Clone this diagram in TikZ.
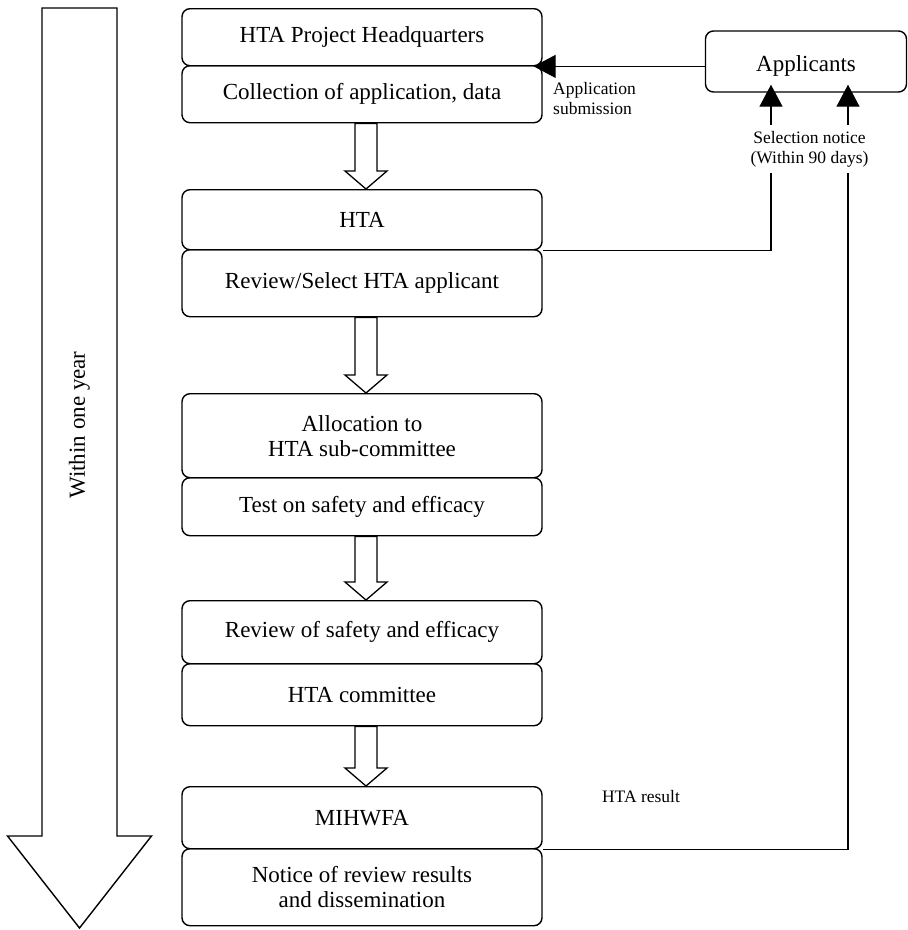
\documentclass[tikz,border=0pt]{standalone}
\usepackage{fontspec}
\setmainfont{Liberation Serif}
\usetikzlibrary{arrows.meta,calc}

% hollow block arrow from the bottom of one box to the top of the next
\newcommand{\hollowarrow}[2]{%
  \draw[hollow] let \p1=(#1.south), \p2=(#2.north) in
    (\x1-7pt,\y1) -- (\x1+15pt,\y1) -- (\x1+15pt,\y2+18pt) -- (\x1+25pt,\y2+18pt)
    -- (\x1+4pt,\y2) -- (\x1-17pt,\y2+18pt) -- (\x1-7pt,\y2+18pt) -- cycle;}

\begin{document}
\begin{tikzpicture}[x=1pt,y=-1pt,
  mainfont/.style={font=\fontsize{23}{25}\selectfont},
  smallfont/.style={font=\fontsize{17.5}{20}\selectfont},
  box/.style={draw, line width=1.4pt, rounded corners=8pt, minimum width=360pt,
    anchor=north, inner sep=2pt, align=center, mainfont},
  hollow/.style={draw, line width=1.3pt, line join=miter},
  conn/.style={draw, line width=1.3pt},
  tri/.style={conn, -{Triangle[length=22pt,width=23pt]}}]

\useasboundingbox (0,0) rectangle (908,930);

% time span arrow on the left
\draw[line width=1.4pt, line join=miter]
  (42,8) -- (117,8) -- (117,836) -- (151.5,836) -- (79.5,928) -- (7.5,836) -- (42,836) -- cycle;
\node[mainfont, rotate=90] (span) at (79.5,425) {Within one year};

% process boxes
\node[box, minimum height=57pt] (hq)    at (362,8)   {HTA Project Headquarters};
\node[box, minimum height=57pt] (coll)  at (362,65)  {Collection of application, data};
\node[box, minimum height=60pt] (hta)   at (362,189) {HTA};
\node[box, minimum height=67pt] (rev)   at (362,249) {Review/Select HTA applicant};
\node[box, minimum height=84pt] (alloc) at (362,393) {Allocation to\\HTA sub-committee};
\node[box, minimum height=58pt] (test)  at (362,477) {Test on safety and efficacy};
\node[box, minimum height=63pt] (rsafe) at (362,600) {Review of safety and efficacy};
\node[box, minimum height=62pt] (comm)  at (362,663) {HTA committee};
\node[box, minimum height=62pt] (mi)    at (362,786) {MIHWFA};
\node[box, minimum height=77pt] (note)  at (362,848) {Notice of review results\\and dissemination};

\hollowarrow{coll}{hta}
\hollowarrow{rev}{alloc}
\hollowarrow{test}{rsafe}
\hollowarrow{comm}{mi}

% applicants
\node[draw, line width=1.4pt, rounded corners=8pt, minimum width=201pt, minimum height=61pt,
  text height=25pt, text depth=5pt, mainfont] (app) at (806,61.5) {Applicants};

\draw[tri] (app.west |- hq.south) -- ($(hq.south east)+(-9,0)$);
\node[smallfont, align=left, anchor=north west, inner sep=0pt] (sub) at (553,82)
  {Application\\submission};

% selection notice
\node[smallfont, align=center] (sel) at (809.5,149) {Selection notice\\(Within 90 days)};
\coordinate (s1a) at (771,125);
\coordinate (s2a) at (848,125);
\coordinate (s1b) at (771,173);
\coordinate (s2b) at (848,173);
\draw[tri] (s1a) -- ($(s1a |- app.south)+(0,-8)$);
\draw[tri] (s2a) -- ($(s2a |- app.south)+(0,-8)$);
\draw[conn] (s1b) |- (hta.south east);
\draw[conn] (s2b) |- (mi.south east);

\node[smallfont] (res) at (641,797) {HTA result};

\end{tikzpicture}
\end{document}
